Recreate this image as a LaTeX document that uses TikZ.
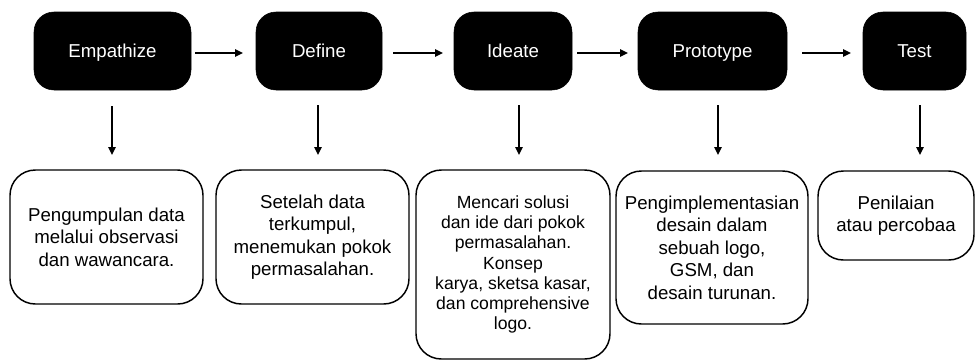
\documentclass[tikz,border=0pt]{standalone}
\usepackage{fontspec}
\setmainfont{Liberation Sans}
\usetikzlibrary{arrows.meta}
\begin{document}
\begin{tikzpicture}[x=0.75pt,y=-0.75pt,
  stage/.style={fill=black,draw=black,rounded corners=15pt,inner sep=0pt,
    text=white,font=\fontsize{14}{17}\selectfont,minimum height=58.5pt,
    text height=10pt,text depth=0pt},
  desc/.style={draw=black,line width=1.1pt,rounded corners=19pt,inner sep=0pt,
    align=center,font=\fontsize{14}{16.9}\selectfont},
  flow/.style={line width=1.1pt,-{Triangle[length=6pt,width=5.5pt]}}]
\useasboundingbox (0,0) rectangle (976,362);
% top stages
\node[stage,minimum width=117.75pt] (E) at (112.5,51) {Empathize};
\node[stage,minimum width=94.5pt]   (D) at (319,51)   {Define};
\node[stage,minimum width=88.5pt]   (I) at (513,51)   {Ideate};
\node[stage,minimum width=111.75pt] (P) at (712.5,51) {Prototype};
\node[stage,minimum width=77.25pt]  (T) at (914.5,51) {Test};
% descriptions
\node[desc,minimum width=144.75pt,minimum height=100.5pt] (e) at (106.5,237)
  {Pengumpulan data\\melalui observasi\\dan wawancara.};
\node[desc,minimum width=144.75pt,minimum height=100.5pt] (d) at (312.5,237)
  {Setelah data\\terkumpul,\\menemukan pokok\\permasalahan.};
\node[desc,minimum width=145.5pt,minimum height=141.75pt,
  font=\fontsize{13.2}{15.2}\selectfont] (i) at (513,264.5)
  {Mencari solusi\\dan ide dari pokok\\permasalahan.\\Konsep\\karya, sketsa kasar,\\dan comprehensive\\logo.};
\node[desc,minimum width=144pt,minimum height=114.75pt] (p) at (712,247.5)
  {Pengimplementasian\\desain dalam\\sebuah logo,\\GSM, dan\\desain turunan.};
\node[desc,minimum width=117pt,minimum height=66.75pt] (t) at (896,215.5)
  {Penilaian\\atau percobaa};
% arrow end points
\coordinate (h1s) at (195,53); \coordinate (h1e) at (243,53);
\coordinate (h2s) at (393,53); \coordinate (h2e) at (443,53);
\coordinate (h3s) at (577,53); \coordinate (h3e) at (628,53);
\coordinate (h4s) at (802,53); \coordinate (h4e) at (851,53);
\coordinate (v1s) at (112,106); \coordinate (v1e) at (112,155);
\coordinate (v2s) at (318,105); \coordinate (v2e) at (318,155);
\coordinate (v3s) at (519,105); \coordinate (v3e) at (519,155);
\coordinate (v4s) at (718,105); \coordinate (v4e) at (718,155);
\coordinate (v5s) at (920,105); \coordinate (v5e) at (920,155);
\draw[flow] (h1s) -- (h1e);
\draw[flow] (h2s) -- (h2e);
\draw[flow] (h3s) -- (h3e);
\draw[flow] (h4s) -- (h4e);
\draw[flow] (v1s) -- (v1e);
\draw[flow] (v2s) -- (v2e);
\draw[flow] (v3s) -- (v3e);
\draw[flow] (v4s) -- (v4e);
\draw[flow] (v5s) -- (v5e);
\end{tikzpicture}
\end{document}
